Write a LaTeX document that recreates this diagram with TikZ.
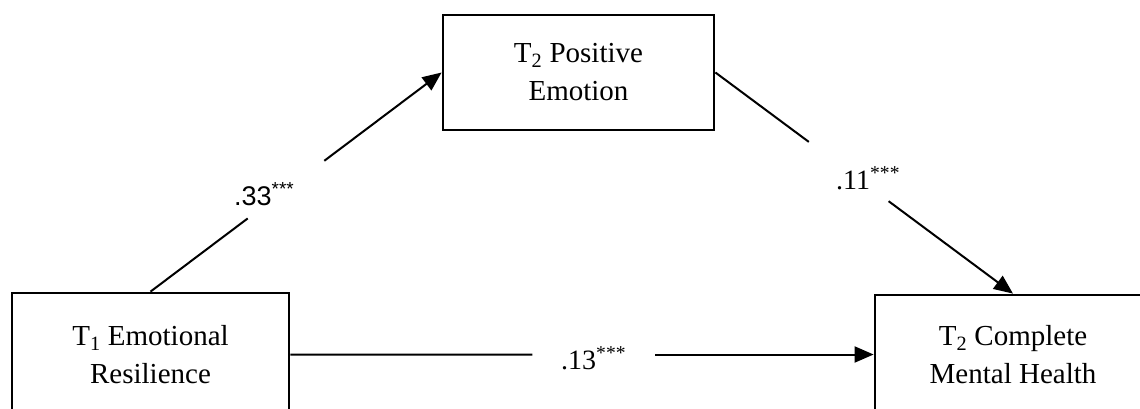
\documentclass[tikz,border=0pt]{standalone}
\usepackage{fontspec}
\setmainfont{Liberation Serif}
\newfontfamily\arialfont{Liberation Sans}
\usetikzlibrary{arrows.meta,calc}
\tikzset{
  boxnode/.style={draw=black, line width=2.8pt, align=center, inner sep=0pt,
    font=\fontsize{29}{38}\selectfont},
  conn/.style={line width=2pt, draw=black},
  arr/.style={conn, -{Triangle[length=19pt,width=16pt]}},
  lbl/.style={inner sep=0pt, anchor=base west, font=\fontsize{28}{32}\selectfont}
}
\begin{document}
\begin{tikzpicture}[x=1pt,y=-1pt]
\useasboundingbox (0,0) rectangle (1140,409);
\clip (0,0) rectangle (1140,409);
\node[boxnode, minimum width=277pt, minimum height=123pt] (L) at (150.5,354.5)
  {T\textsubscript{1} Emotional\\Resilience};
\node[boxnode, minimum width=271pt, minimum height=115pt] (T) at (578.5,72.5)
  {T\textsubscript{2} Positive\\Emotion};
\node[boxnode, minimum width=276pt, minimum height=119pt] (R) at (1013,354.5)
  {T\textsubscript{2} Complete\\Mental Health};
% L -> T
\draw[conn] (L.north) -- ($(L.north)!0.334!(T.west)$);
\draw[arr] ($(L.north)!0.597!(T.west)$) -- (T.west);
% T -> R
\draw[conn] (T.east) -- ($(T.east)!0.314!(R.north)$);
\draw[arr] ($(T.east)!0.582!(R.north)$) -- (R.north);
% L -> R
\draw[conn] (L.east) -- ($(L.east)!0.415!(R.west)$);
\draw[arr] ($(L.east)!0.626!(R.west)$) -- (R.west);
% labels
\node[lbl, font=\arialfont\fontsize{27}{32}\selectfont] (a) at (234,205) {.33\textsuperscript{***}};
\node[lbl] (b) at (836,189) {.11\textsuperscript{***}};
\node[lbl] (c) at (561,369) {.13\textsuperscript{***}};
\end{tikzpicture}
\end{document}
